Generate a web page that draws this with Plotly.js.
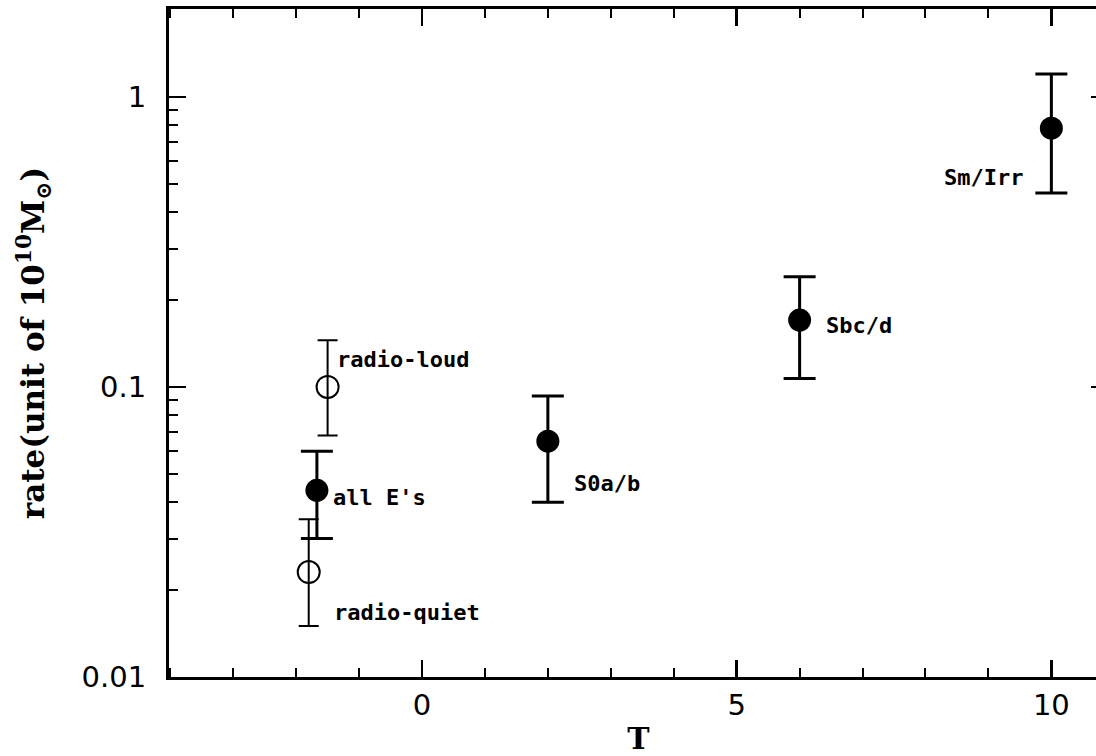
<!DOCTYPE html>
<html>
<head>
<meta charset="utf-8">
<script src="https://cdn.plot.ly/plotly-3.0.1.min.js"></script>
<style>
html, body { margin: 0; padding: 0; overflow: hidden; background: #fff; }
#chart { width: 1112px; height: 756px; }
</style>
</head>
<body>
<div id="chart"></div>
<script>
// Open circles (radio-loud / radio-quiet ellipticals)
const openT      = [-1.5, -1.8];
const openRate   = [0.100, 0.023];
const openHi     = [0.145, 0.035];
const openLo     = [0.068, 0.015];
const openLabels = ['radio-loud', 'radio-quiet'];

// Filled circles (morphological types)
const filledT      = [-1.67, 2, 6, 10];
const filledRate   = [0.044, 0.065, 0.17, 0.78];
const filledHi     = [0.060, 0.093, 0.24, 1.20];
const filledLo     = [0.030, 0.040, 0.107, 0.466];
const filledLabels = ["all E's", 'S0a/b', 'Sbc/d', 'Sm/Irr'];

// Axis ticks
const xTickVals = [0, 5, 10];
const xTickText = ['0', '5', '10'];
const yTickVals = [0.01, 0.1, 1];
const yTickText = ['0.01', '0.1', '1'];

// label placement (pixel offsets from each point) — style, not data
const openLabelPos   = [{dx: 7, dy: 27, anchor: 'left'}, {dx: 23, dy: -40, anchor: 'left'}];
const filledLabelPos = [{dx: 14, dy: -7, anchor: 'left'}, {dx: 24, dy: -42, anchor: 'left'},
                        {dx: 24, dy: -5, anchor: 'left'}, {dx: -26, dy: -49, anchor: 'right'}];

const yMinor = [];
[0.01, 0.1, 1].forEach(d => { for (let k = 2; k <= 9; k++) yMinor.push(+(d * k).toPrecision(3)); });

const traces = [
  {
    type: 'scatter', mode: 'markers', x: openT, y: openRate,
    marker: {symbol: 'circle-open', size: 22, color: '#000', line: {width: 2, color: '#000'}},
    error_y: {type: 'data', symmetric: false,
      array: openRate.map((v, i) => openHi[i] - v),
      arrayminus: openRate.map((v, i) => v - openLo[i]),
      color: '#000', thickness: 2, width: 10},
    hoverinfo: 'skip', showlegend: false
  },
  {
    type: 'scatter', mode: 'markers', x: filledT, y: filledRate,
    marker: {symbol: 'circle', size: 23, color: '#000'},
    error_y: {type: 'data', symmetric: false,
      array: filledRate.map((v, i) => filledHi[i] - v),
      arrayminus: filledRate.map((v, i) => v - filledLo[i]),
      color: '#000', thickness: 3, width: 16},
    hoverinfo: 'skip', showlegend: false
  }
];

const labelFont = {family: 'DejaVu Sans Mono', size: 22, color: '#000', weight: 'bold'};
const annotations = [];
openLabels.forEach((t, i) => annotations.push({
  x: openT[i], y: Math.log10(openRate[i]), xref: 'x', yref: 'y', text: t, showarrow: false,
  xanchor: openLabelPos[i].anchor, yanchor: 'middle', xshift: openLabelPos[i].dx, yshift: openLabelPos[i].dy,
  font: labelFont
}));
filledLabels.forEach((t, i) => annotations.push({
  x: filledT[i], y: Math.log10(filledRate[i]), xref: 'x', yref: 'y', text: t, showarrow: false,
  xanchor: filledLabelPos[i].anchor, yanchor: 'middle', xshift: filledLabelPos[i].dx, yshift: filledLabelPos[i].dy,
  font: labelFont
}));

const layout = {
  width: 1112, height: 756,
  margin: {l: 169, r: 4, t: 9, b: 79},
  paper_bgcolor: '#fff', plot_bgcolor: '#fff',
  showlegend: false,
  xaxis: {
    range: [-4.02, 10.9],
    tickmode: 'array', tickvals: xTickVals, ticktext: xTickText,
    ticks: 'inside', ticklen: 17, tickwidth: 2.5, tickcolor: '#000',
    minor: {dtick: 1, tick0: 0, ticks: 'inside', ticklen: 9, tickwidth: 2, tickcolor: '#000', showgrid: false},
    showline: true, linewidth: 3, linecolor: '#000', mirror: 'allticks',
    showgrid: false, zeroline: false,
    tickfont: {family: 'DejaVu Sans', size: 29, color: '#000'},
    ticklabelstandoff: 0,
    title: {text: 'T', font: {family: 'DejaVu Serif', size: 30, color: '#000', weight: 'bold'}, standoff: 18}
  },
  yaxis: {
    type: 'log', range: [-2, 0.303],
    tickmode: 'array', tickvals: yTickVals, ticktext: yTickText,
    ticks: 'inside', ticklen: 17, tickwidth: 2.5, tickcolor: '#000',
    minor: {tickmode: 'array', tickvals: yMinor, ticks: 'inside', ticklen: 9, tickwidth: 2, tickcolor: '#000', showgrid: false},
    showline: true, linewidth: 3, linecolor: '#000', mirror: 'allticks',
    showgrid: false, zeroline: false,
    tickfont: {family: 'DejaVu Sans', size: 29, color: '#000'},
    ticklabelstandoff: 14,
    title: {text: 'rate(unit of 10<sup>10</sup>M<sub>⊙</sub>)', font: {family: 'DejaVu Serif', size: 31, color: '#000', weight: 'bold'}, standoff: 28}
  },
  annotations: annotations
};

Plotly.newPlot('chart', traces, layout, {displayModeBar: false, staticPlot: true});
</script>
</body>
</html>
